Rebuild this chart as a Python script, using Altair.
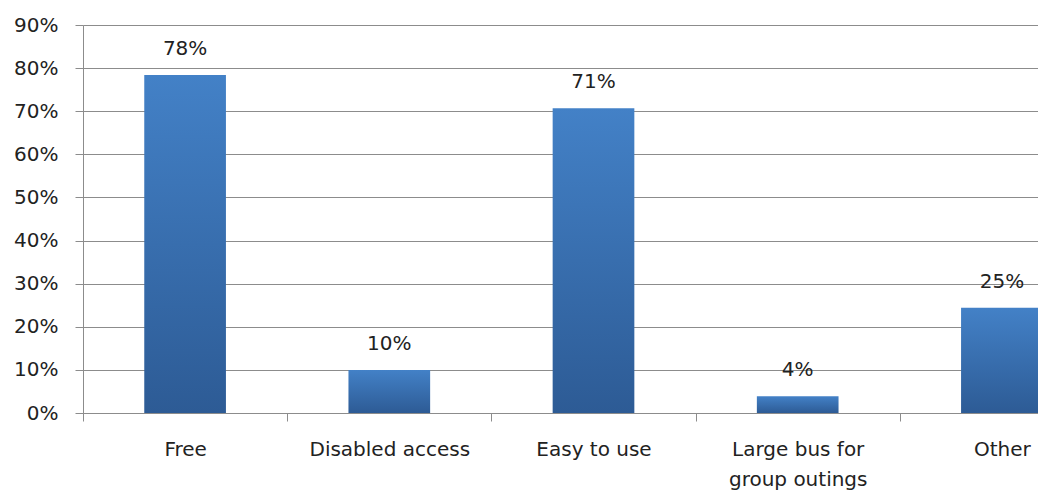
import altair as alt
import pandas as pd

categories = ["Free", "Disabled access", "Easy to use", "Large bus for\ngroup outings", "Other"]
values = [78.4, 10.0, 70.7, 3.9, 24.4]
labels = ["78%", "10%", "71%", "4%", "25%"]
y_ticks = [0, 10, 20, 30, 40, 50, 60, 70, 80, 90]

df = pd.DataFrame({"category": categories, "value": values, "label": labels})

FONT = "DejaVu Sans"
GRID = "#8c8c8c"

x = alt.X(
    "category:N", sort=categories, title=None,
    scale=alt.Scale(range=[0, 1021], paddingInner=0, paddingOuter=0),
    axis=alt.Axis(labelAngle=0, labelExpr="datum.value ? split(datum.value, '\\n') : ''",
                  tickBand="extent",
                  tickSize=8, labelPadding=18, labelFontSize=20, labelLineHeight=30,
                  domainColor=GRID, tickColor=GRID, labelColor="#222222", labelFont=FONT,
                  labelOverlap=False, grid=False),
)
y = alt.Y(
    "value:Q", title=None,
    scale=alt.Scale(domain=[0, 90], nice=False),
    axis=alt.Axis(values=y_ticks, labelExpr="datum.value + '%'", tickSize=8,
                  gridColor=GRID, domainColor=GRID, tickColor=GRID, labelPadding=17,
                  labelFontSize=20, labelFont=FONT, labelColor="#222222", grid=True),
)

grad = alt.Gradient(
    gradient="linear",
    stops=[alt.GradientStop(color="#4381c7", offset=0), alt.GradientStop(color="#2d5b95", offset=1)],
    x1=0, x2=0, y1=0, y2=1,
)

bars = alt.Chart(df).mark_bar(color=grad, width=alt.RelativeBandSize(0.4)).encode(x=x, y=y)
text = alt.Chart(df).mark_text(baseline="bottom", dy=-16, fontSize=20, font=FONT, color="#222222").encode(
    x=alt.X("category:N", sort=categories), y="value:Q", text="label:N"
)

chart = (bars + text).properties(
    width=955, height=388,
    autosize=alt.AutoSizeParams(type="none"),
    padding={"left": 83, "top": 25, "right": 0, "bottom": 78},
).configure_view(stroke=None).configure(background="white")

chart.save("out.html", embed_options={"renderer": "svg", "actions": False})
